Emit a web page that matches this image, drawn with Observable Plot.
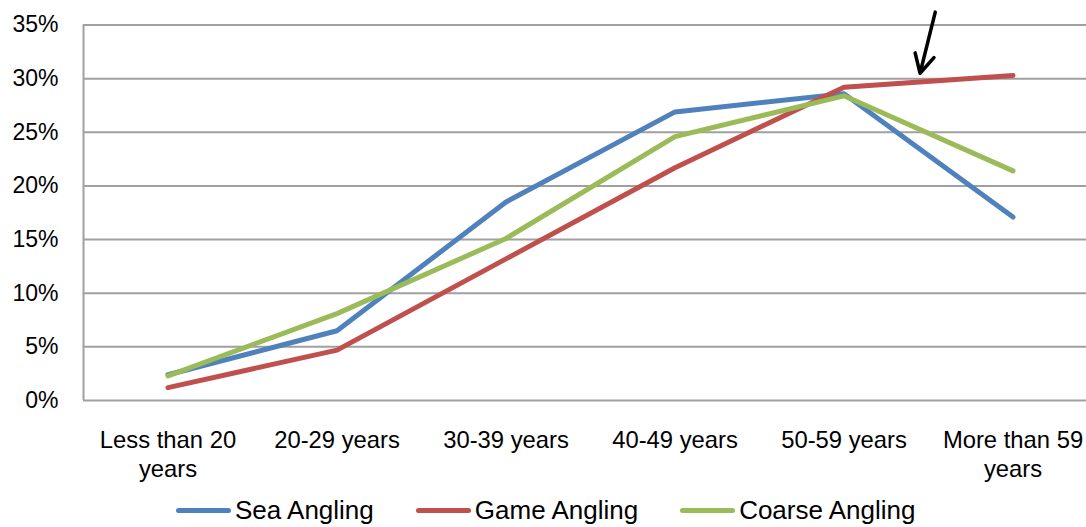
<!DOCTYPE html>
<html>
<head>
<meta charset="utf-8">
<script src="https://cdn.jsdelivr.net/npm/d3@7"></script>
<script src="https://cdn.jsdelivr.net/npm/@observablehq/plot@0.6"></script>
<style>
  html, body { margin: 0; padding: 0; background: #fff; overflow: hidden; }
  body { width: 1086px; height: 527px; position: relative; font-family: "Liberation Sans", Arial, sans-serif; }
  #chart { position: absolute; left: 0; top: 0; width: 1086px; }
  #chart svg { max-width: none; }
  #legend { position: absolute; left: 176px; top: 490px; height: 40px; display: flex; align-items: center; }
  .item { display: flex; align-items: center; margin-right: 42px; font-size: 26px; color: #000; white-space: nowrap; }
  .swatch { width: 55px; height: 5px; border-radius: 3px; margin-right: 4px; }
</style>
</head>
<body>
<div id="chart"></div>
<div id="legend"></div>
<script>
// Age groups along the x axis
const categories = ["Less than 20 years", "20-29 years", "30-39 years", "40-49 years", "50-59 years", "More than 59 years"];
const xTickLabels = ["Less than 20\nyears", "20-29 years", "30-39 years", "40-49 years", "50-59 years", "More than 59\nyears"];

// Share of anglers in each age group (%)
const seaAngling    = [2.4, 6.5, 18.5, 26.9, 28.6, 17.1];
const gameAngling   = [1.2, 4.7, 13.2, 21.7, 29.2, 30.3];
const coarseAngling = [2.3, 8.1, 15.1, 24.6, 28.4, 21.4];

const seriesNames  = ["Sea Angling", "Game Angling", "Coarse Angling"];
const seriesColors = ["#4F81BD", "#C0504D", "#9BBB59"];
const yTicks = [0, 5, 10, 15, 20, 25, 30, 35];

// Arrow pointing at the Game Angling line between the last two age groups
const arrowNote = [{x1: 4.54, y1: 36.2, x2: 4.45, y2: 30.5}];

const seriesValues = [seaAngling, gameAngling, coarseAngling];
const rows = seriesNames.flatMap((name, s) =>
  seriesValues[s].map((v, i) => ({i, category: categories[i], value: v, series: name}))
);

const grey = "#a0a0a0";

// The plot frame runs a little past the right edge of the page, so the right margin is negative
const chart = Plot.plot({
  width: 1086,
  height: 490,
  marginLeft: 83,
  marginRight: -11,
  marginTop: 24.5,
  marginBottom: 90,
  style: {fontFamily: "'Liberation Sans', Arial, sans-serif", fontSize: "23px", color: "#000", background: "#fff", overflow: "hidden"},
  x: {type: "linear", domain: [-0.5, 5.5]},
  y: {domain: [0, 35]},
  color: {domain: seriesNames, range: seriesColors},
  marks: [
    Plot.gridY(yTicks, {stroke: grey, strokeOpacity: 1, strokeWidth: 2}),
    Plot.ruleX([-0.5], {stroke: grey, strokeWidth: 2}),
    Plot.axisY({ticks: yTicks, tickSize: 0, tickPadding: 25, tickFormat: d => d + "%", label: null, fontSize: 23, fill: "#000"}),
    Plot.axisX({ticks: d3.range(categories.length), tickSize: 0, tickPadding: 26, tickFormat: i => xTickLabels[i], label: null, fontSize: 23.8, lineHeight: 1.25, fill: "#000"}),
    Plot.line(rows, {x: "i", y: "value", z: "series", stroke: "series", strokeWidth: 5, strokeLinecap: "round", strokeLinejoin: "round"}),
    Plot.arrow(arrowNote, {x1: "x1", y1: "y1", x2: "x2", y2: "y2", stroke: "#000", strokeWidth: 3.5, headLength: 22, headAngle: 55, bend: 0})
  ]
});
document.getElementById("chart").appendChild(chart);

// Legend below the chart
const legend = document.getElementById("legend");
seriesNames.forEach((name, k) => {
  const item = document.createElement("div");
  item.className = "item";
  const sw = document.createElement("span");
  sw.className = "swatch";
  sw.style.background = seriesColors[k];
  const label = document.createElement("span");
  label.textContent = name;
  item.appendChild(sw);
  item.appendChild(label);
  legend.appendChild(item);
});
</script>
</body>
</html>
